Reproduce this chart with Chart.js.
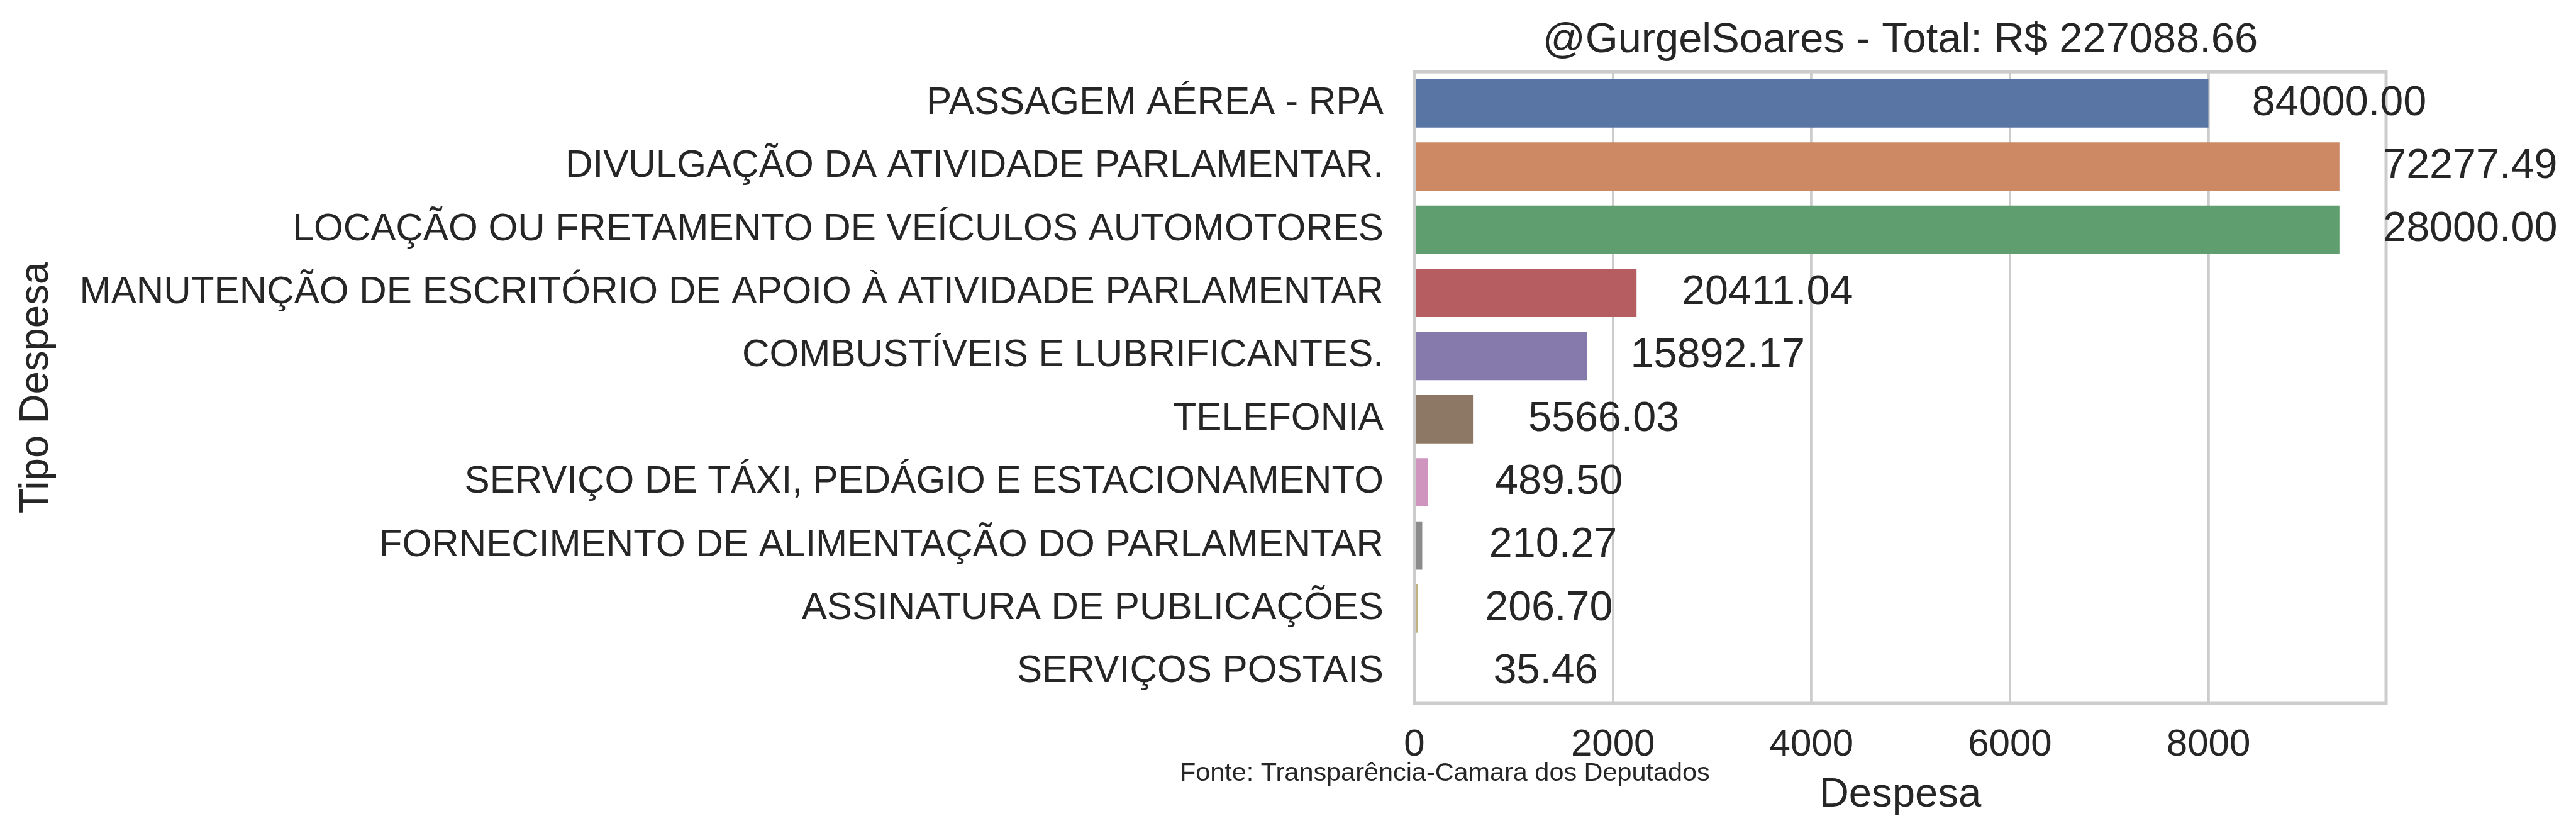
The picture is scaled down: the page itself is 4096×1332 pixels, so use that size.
<!DOCTYPE html>
<html>
<head>
<meta charset="utf-8">
<script src="https://cdn.jsdelivr.net/npm/chart.js@4/dist/chart.umd.min.js"></script>
<style>
  html, body { margin: 0; padding: 0; background: #fff; overflow: hidden; }
  canvas { display: block; }
</style>
</head>
<body>
<canvas id="chart" width="4096" height="1332"></canvas>
<script>
/* ── data ── */
const tipos = [
  'PASSAGEM AÉREA - RPA',
  'DIVULGAÇÃO DA ATIVIDADE PARLAMENTAR.',
  'LOCAÇÃO OU FRETAMENTO DE VEÍCULOS AUTOMOTORES',
  'MANUTENÇÃO DE ESCRITÓRIO DE APOIO À ATIVIDADE PARLAMENTAR',
  'COMBUSTÍVEIS E LUBRIFICANTES.',
  'TELEFONIA',
  'SERVIÇO DE TÁXI, PEDÁGIO E ESTACIONAMENTO',
  'FORNECIMENTO DE ALIMENTAÇÃO DO PARLAMENTAR',
  'ASSINATURA DE PUBLICAÇÕES',
  'SERVIÇOS POSTAIS'
];
// bar lengths (as drawn)
const despesa = [8000, 9320, 9320, 2238, 1738, 590, 137, 79, 37, 4];
// totals printed next to each bar
const totais = [84000.00, 72277.49, 28000.00, 20411.04, 15892.17, 5566.03, 489.50, 210.27, 206.70, 35.46];
const cores = ['#5975a4', '#cc8963', '#5f9e6e', '#b55d60', '#857aab', '#8d7866', '#d095bf', '#8c8c8c', '#c1b37f', '#71aec0'];
const xTicks = [0, 2000, 4000, 6000, 8000];
const titulo = '@GurgelSoares - Total: R$ 227088.66';
const fonte = 'Fonte: Transparência-Camara dos Deputados';

const FAMILY = "'Liberation Sans', Arial, sans-serif";
const INK = '#262626';
const GRID = '#cccccc';

Chart.defaults.font.family = FAMILY;
Chart.defaults.color = INK;

/* ── spines, value labels, footnote ── */
const extras = {
  id: 'extras',
  afterDatasetsDraw(chart) {
    const { ctx, chartArea: a, scales } = chart;
    ctx.save();
    ctx.strokeStyle = GRID;
    ctx.lineWidth = 5;
    ctx.strokeRect(a.left, a.top, a.right - a.left, a.bottom - a.top);

    ctx.fillStyle = INK;
    ctx.font = '66.5px ' + FAMILY;
    ctx.textAlign = 'center';
    ctx.textBaseline = 'middle';
    despesa.forEach((v, i) => {
      const x = scales.x.getPixelForValue(v) + 208;
      const y = scales.y.getPixelForValue(i);
      ctx.fillText(totais[i].toFixed(2), x, y);
    });

    ctx.font = '41.4px ' + FAMILY;
    ctx.textAlign = 'left';
    ctx.textBaseline = 'alphabetic';
    ctx.fillText(fonte, 1876, 1241);
    ctx.restore();
  }
};

new Chart(document.getElementById('chart'), {
  type: 'bar',
  data: {
    labels: tipos,
    datasets: [{
      data: despesa,
      backgroundColor: cores,
      borderWidth: 0,
      barPercentage: 0.765,
      categoryPercentage: 1
    }]
  },
  options: {
    indexAxis: 'y',
    responsive: false,
    animation: false,
    devicePixelRatio: 1,
    layout: { padding: { left: 0, right: 302, top: 0, bottom: 0 } },
    plugins: {
      legend: { display: false },
      tooltip: { enabled: false },
      title: {
        display: true,
        text: titulo,
        fullSize: false,
        color: INK,
        font: { size: 66.8, weight: 'normal', family: FAMILY },
        padding: { top: 24, bottom: 10 }
      }
    },
    scales: {
      x: {
        min: 0,
        max: 9790,
        afterFit: s => { s.height = 214; },
        afterBuildTicks: s => { s.ticks = xTicks.map(v => ({ value: v })); },
        ticks: {
          autoSkip: false,
          padding: 30,
          color: INK,
          font: { size: 60 },
          callback: v => String(Math.round(v))
        },
        grid: { color: GRID, lineWidth: 3.8, drawTicks: false },
        border: { display: false },
        title: {
          display: true,
          text: 'Despesa',
          color: INK,
          font: { size: 65.3 },
          padding: { top: 0, bottom: 29 }
        }
      },
      y: {
        afterFit: s => { s.width = 2249; },
        ticks: {
          autoSkip: false,
          padding: 49,
          color: INK,
          font: { size: 60.2 }
        },
        grid: { display: false, drawTicks: false },
        border: { display: false },
        title: {
          display: true,
          text: 'Tipo Despesa',
          color: INK,
          font: { size: 65.3 },
          padding: { top: 19, bottom: 0 }
        }
      }
    }
  },
  plugins: [extras]
});
</script>
</body>
</html>
